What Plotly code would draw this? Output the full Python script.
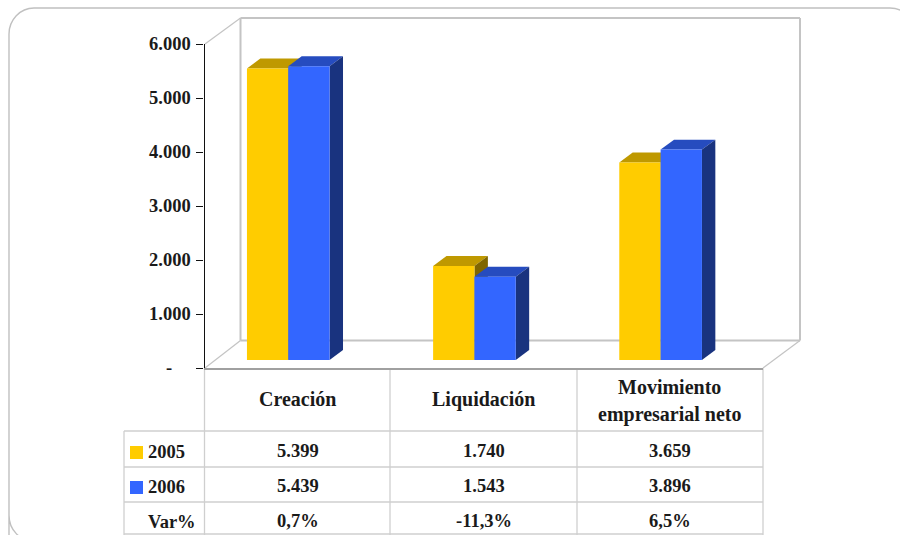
import plotly.graph_objects as go

CATEGORIES = ["Creación", "Liquidación", "Movimiento<br>empresarial neto"]
YEARS = ["2005", "2006"]
VALUES_2005 = [5399, 1740, 3659]
VALUES_2006 = [5439, 1543, 3896]
TEXT_2005 = ["5.399", "1.740", "3.659"]
TEXT_2006 = ["5.439", "1.543", "3.896"]
VAR_TEXT = ["0,7%", "-11,3%", "6,5%"]
TICK_VALUES = [0, 1000, 2000, 3000, 4000, 5000, 6000]
TICK_TEXT = ["-\u00a0\u00a0\u00a0\u00a0", "1.000", "2.000", "3.000", "4.000", "5.000", "6.000"]

W, H = 900, 535
FONT = "Liberation Serif"
FS = 18.5
FS_HEAD = 20
GREY = "#cfcfcf"
WALL = "#c4c4c4"


def px(x):
    return x / W


def py(y):
    return 1 - y / H


# 3-D look, in data units
BASE = 148
BAR_W = 0.222
DX = 0.072
DY = 185
SERIES = [
    (YEARS[0], VALUES_2005, -0.272, "#FFCC00", "#BF9900", "#7F6600"),
    (YEARS[1], VALUES_2006, -0.05, "#3366FF", "#264CBF", "#19337F"),
]

fig = go.Figure()
shapes = []


def pline(x0, y0, x1, y1, color=GREY, width=1.3):
    shapes.append(dict(type="line", xref="paper", yref="paper", x0=px(x0), y0=py(y0),
                       x1=px(x1), y1=py(y1), line=dict(color=color, width=width), layer="below"))


# rounded outer frame
def P(x, y):
    return f"{px(x):.5f},{py(y):.5f}"


frame = (f"M {P(9, 560)} L {P(9, 34)} C {P(9, 20)} {P(20, 8)} {P(34, 8)} "
         f"L {P(890, 8)} C {P(904, 8)} {P(915, 20)} {P(915, 34)} L {P(915, 515)} "
         f"C {P(915, 530)} {P(904, 541)} {P(890, 541)} L {P(34, 541)} C {P(20, 541)} {P(9, 530)} {P(9, 515)}")
shapes.append(dict(type="path", xref="paper", yref="paper", path=frame,
                   line=dict(color="#c0c0c0", width=1.4), layer="below"))

# box walls
pline(240.5, 18, 800, 18, WALL, 2)
pline(240.5, 18, 240.5, 340.5, WALL, 2)
pline(800, 18, 800, 340.5, WALL, 2)
pline(240.5, 340.5, 800, 340.5, WALL, 2)
pline(205, 44, 240.5, 18, WALL, 1.2)
pline(205, 368, 240.5, 340.5, WALL, 1.2)
pline(763, 368, 800, 340.5, WALL, 1.2)

# depth faces of the bars, computed from the values
for name, vals, off, front, top, side in SERIES:
    for i, v in enumerate(vals):
        x0, x1 = i + off, i + off + BAR_W
        t = BASE + v
        shapes.append(dict(type="path", xref="x", yref="y", layer="below", fillcolor=top,
                           line=dict(width=0),
                           path=f"M {x0},{t} L {x0 + DX},{t + DY} L {x1 + DX},{t + DY} L {x1},{t} Z"))
        shapes.append(dict(type="path", xref="x", yref="y", layer="below", fillcolor=side,
                           line=dict(width=0),
                           path=f"M {x1},{BASE} L {x1 + DX},{BASE + DY} L {x1 + DX},{t + DY} L {x1},{t} Z"))

for name, vals, off, front, top, side in SERIES:
    fig.add_trace(go.Bar(x=[0, 1, 2], y=vals, base=BASE, name=name, width=BAR_W, offset=off,
                         marker=dict(color=front, line=dict(width=0)), showlegend=False))

# data table grid
for y in (431, 467, 502, 534):
    pline(124, y, 763, y)
for x in (204.5, 390, 577, 763):
    pline(x, 368, x, 535)
pline(124, 431, 124, 535)

# legend keys
for key_y, color in ((446, "#FFCC00"), (481, "#3366FF")):
    shapes.append(dict(type="rect", xref="paper", yref="paper", x0=px(130), x1=px(143),
                       y0=py(key_y), y1=py(key_y + 13), fillcolor=color, line=dict(width=0)))

annotations = []


def label(text, x, y, xref="paper", anchor="center", size=FS):
    annotations.append(dict(text=f"<b>{text}</b>", x=x, y=py(y), xref=xref, yref="paper",
                            xanchor=anchor, yanchor="middle", showarrow=False,
                            font=dict(family=FONT, size=size, color="#1a1a1a")))


for i, cat in enumerate(CATEGORIES):
    parts = cat.split("<br>")
    if len(parts) == 1:
        label(parts[0], i, 399, "x", size=FS_HEAD)
    else:
        label(parts[0], i, 387, "x", size=FS_HEAD)
        label(parts[1], i, 414, "x", size=FS_HEAD)
    label(TEXT_2005[i], i, 451, "x")
    label(TEXT_2006[i], i, 486, "x")
    label(VAR_TEXT[i], i, 521, "x")

label(YEARS[0], px(146), 452, anchor="left")
label(YEARS[1], px(146), 487, anchor="left")
label("Var%", px(146), 522, anchor="left")

fig.update_layout(
    width=W, height=H, autosize=False,
    margin=dict(l=0, r=0, t=0, b=0, autoexpand=False),
    paper_bgcolor="white", plot_bgcolor="rgba(0,0,0,0)",
    barmode="overlay", showlegend=False,
    shapes=shapes, annotations=annotations,
    xaxis=dict(domain=[px(204.5), px(763)], range=[-0.5, 2.5], showgrid=False, zeroline=False,
               showticklabels=False, ticks="", showline=True, linecolor="#a0a0a0", linewidth=2,
               fixedrange=True),
    yaxis=dict(domain=[py(368), py(44)], range=[0, 6000], tickvals=TICK_VALUES, ticktext=TICK_TEXT,
               ticks="outside", ticklen=7, tickwidth=1.2, tickcolor="#111111", showgrid=False,
               zeroline=False, showline=True, linecolor="#111111", linewidth=1.2,
               ticklabelstandoff=2, tickfont=dict(family=FONT, size=FS, color="#1a1a1a", weight="bold"),
               fixedrange=True),
)

fig.write_html("out.html", config=dict(displayModeBar=False),
               post_script="document.body.style.margin='0';")
